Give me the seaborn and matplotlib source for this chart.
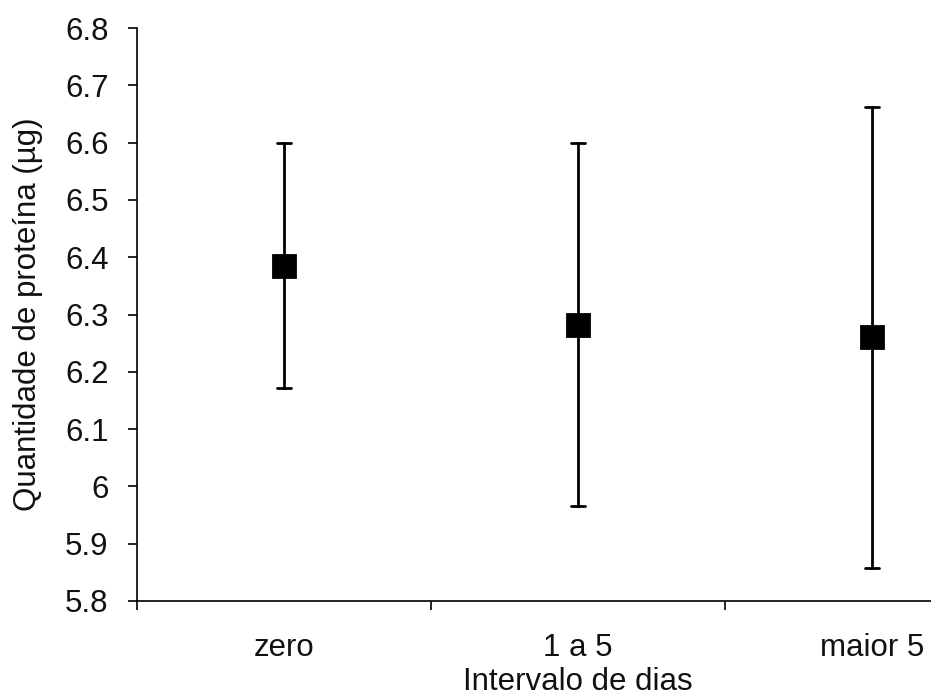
import numpy as np
import pandas as pd
import matplotlib
matplotlib.use("Agg")
import matplotlib.pyplot as plt
import seaborn as sns

categories = ["zero", "1 a 5", "maior 5"]
means = [6.385, 6.282, 6.261]
lower = [6.172, 5.965, 5.858]
upper = [6.599, 6.600, 6.662]
yticks = [5.8, 5.9, 6.0, 6.1, 6.2, 6.3, 6.4, 6.5, 6.6, 6.7, 6.8]
ytick_labels = ["5.8", "5.9", "6", "6.1", "6.2", "6.3", "6.4", "6.5", "6.6", "6.7", "6.8"]

rows = []
for c, lo, m, hi in zip(categories, lower, means, upper):
    for v in (lo, m, hi):
        rows.append({"cat": c, "val": v})
df = pd.DataFrame(rows)

sns.set_theme(style="white")
plt.rcParams["font.family"] = ["Liberation Sans", "DejaVu Sans"]

fig = plt.figure(figsize=(9.31, 7.0), dpi=100)
ax = fig.add_axes([137 / 931, 99 / 700, 882 / 931, 573 / 700])

sns.pointplot(
    data=df, x="cat", y="val", order=categories,
    estimator=np.median, errorbar=lambda x: (x.min(), x.max()),
    linestyle="none", markers="s", color="black",
    markersize=15.5, capsize=0.045,
    err_kws={"linewidth": 2.0, "color": "black"},
    ax=ax,
)

ax.set_xlim(-0.5, 2.5)
ax.set_ylim(5.8, 6.8)
ax.set_yticks(yticks)
ax.set_yticklabels(ytick_labels)
ax.set_xticks([0, 1, 2])
ax.set_xticklabels(categories)
ax.set_xticks([-0.5, 0.5, 1.5, 2.5], minor=True)

for s in ["top", "right"]:
    ax.spines[s].set_visible(False)
for s in ["left", "bottom"]:
    ax.spines[s].set_color("black")
    ax.spines[s].set_linewidth(1.2)

ax.tick_params(axis="y", which="major", direction="out", length=6.5, width=1.2,
               color="black", left=True, pad=14, labelsize=22.5, labelcolor="#111111")
ax.tick_params(axis="x", which="major", length=0, pad=23, labelsize=22.5, labelcolor="#111111")
ax.tick_params(axis="x", which="minor", direction="out", length=6.5, width=1.2,
               color="black", bottom=True)

ax.set_xlabel("Intervalo de dias", fontsize=22.5, labelpad=3, color="#111111")
ax.set_ylabel("Quantidade de proteína (µg)", fontsize=22.5, labelpad=16, color="#111111")
ax.grid(False)

fig.savefig("out.png", dpi=100)
